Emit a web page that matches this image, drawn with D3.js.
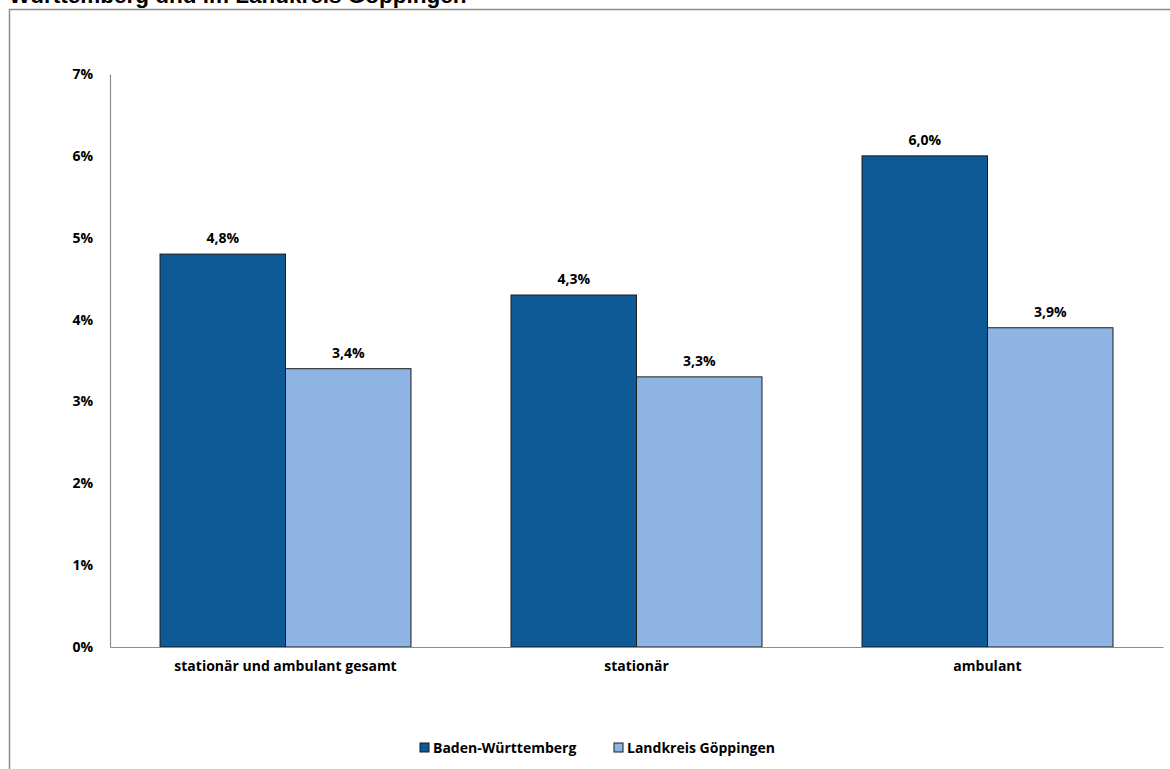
<!DOCTYPE html>
<html>
<head>
<meta charset="utf-8">
<script src="https://cdn.jsdelivr.net/npm/d3@7/dist/d3.min.js"></script>
<style>
  html, body { margin: 0; padding: 0; background: #fff; }
  svg { display: block; }
</style>
</head>
<body>
<svg id="chart" width="1170" height="769"></svg>
<script>
// Anteil nach Versorgungsform
const categories = ["stationär und ambulant gesamt", "stationär", "ambulant"];
const seriesNames = ["Baden-Württemberg", "Landkreis Göppingen"];
const badenWuerttemberg = [4.8, 4.3, 6.0];
const landkreisGoeppingen = [3.4, 3.3, 3.9];
const yTicks = [0, 1, 2, 3, 4, 5, 6, 7];
const colors = ["#0E5A96", "#8EB4E3"];

const seriesValues = [badenWuerttemberg, landkreisGoeppingen];
const fmtPct = v => v.toFixed(1).replace(".", ",") + "%";
const labelFont = "'Open Sans', Lato, sans-serif";
const labelSize = 14;

const svg = d3.select("#chart");

// Rahmen des Diagrammbereichs
svg.append("path")
  .attr("d", "M9.5,769 V9.5 H1170")
  .attr("fill", "none")
  .attr("stroke", "#8c8c8c")
  .attr("stroke-width", 1.5);

// Titelzeile (oben angeschnitten)
svg.append("text")
  .attr("x", 9)
  .attr("y", 3)
  .attr("font-family", "Arial, 'Liberation Sans', sans-serif")
  .attr("font-weight", "bold")
  .attr("font-size", 22.5)
  .attr("fill", "#000")
  .text("Württemberg und im Landkreis Göppingen");

const plot = { left: 110, right: 1163, top: 74, bottom: 647 };

const x0 = d3.scaleBand()
  .domain(categories)
  .range([plot.left, plot.right])
  .paddingInner(0)
  .paddingOuter(0);

const inner = 0.1425; // Randanteil je Seite innerhalb einer Gruppe
const x1 = d3.scaleBand()
  .domain(seriesNames)
  .range([x0.bandwidth() * inner, x0.bandwidth() * (1 - inner)])
  .padding(0);

const y = d3.scaleLinear()
  .domain([0, 7])
  .range([plot.bottom, plot.top]);

// Y-Achse
const yAxis = svg.append("g")
  .attr("transform", `translate(${plot.left},0)`)
  .call(d3.axisLeft(y).tickValues(yTicks).tickSize(0).tickPadding(17)
    .tickFormat(d => d + "%"));
yAxis.select(".domain").attr("stroke", "#8c8c8c").attr("stroke-width", 1.2);
yAxis.selectAll("text")
  .attr("font-family", labelFont)
  .attr("font-weight", "bold")
  .attr("font-size", labelSize)
  .attr("fill", "#000");

// Balken
const groups = svg.append("g")
  .selectAll("g")
  .data(categories)
  .join("g")
  .attr("transform", d => `translate(${x0(d)},0)`);

groups.selectAll("rect")
  .data((d, i) => seriesNames.map((s, j) => ({ s, j, v: seriesValues[j][i] })))
  .join("rect")
  .attr("x", d => x1(d.s))
  .attr("y", d => y(d.v))
  .attr("width", x1.bandwidth())
  .attr("height", d => y(0) - y(d.v))
  .attr("fill", d => colors[d.j])
  .attr("stroke", "#1b1b1b")
  .attr("stroke-width", 1);

groups.selectAll("text.val")
  .data((d, i) => seriesNames.map((s, j) => ({ s, j, v: seriesValues[j][i] })))
  .join("text")
  .attr("class", "val")
  .attr("x", d => x1(d.s) + x1.bandwidth() / 2)
  .attr("y", d => y(d.v) - 11)
  .attr("text-anchor", "middle")
  .attr("font-family", labelFont)
  .attr("font-weight", "bold")
  .attr("font-size", labelSize)
  .attr("fill", "#000")
  .text(d => fmtPct(d.v));

// X-Achse
const xAxis = svg.append("g")
  .attr("transform", `translate(0,${plot.bottom})`)
  .call(d3.axisBottom(x0).tickSize(0).tickPadding(14));
xAxis.select(".domain").attr("stroke", "#8c8c8c").attr("stroke-width", 1.2);
xAxis.selectAll("text")
  .attr("font-family", labelFont)
  .attr("font-weight", "bold")
  .attr("font-size", labelSize)
  .attr("fill", "#000");

// Legende
const legendX = [420, 614];
const legend = svg.append("g")
  .selectAll("g")
  .data(seriesNames)
  .join("g")
  .attr("transform", (d, i) => `translate(${legendX[i]},743)`);
legend.append("rect")
  .attr("width", 9)
  .attr("height", 9)
  .attr("fill", (d, i) => colors[i])
  .attr("stroke", "#1b1b1b")
  .attr("stroke-width", 1);
legend.append("text")
  .attr("x", 13)
  .attr("y", 10)
  .attr("font-family", labelFont)
  .attr("font-weight", "bold")
  .attr("font-size", labelSize)
  .attr("fill", "#000")
  .text(d => d);
</script>
</body>
</html>
